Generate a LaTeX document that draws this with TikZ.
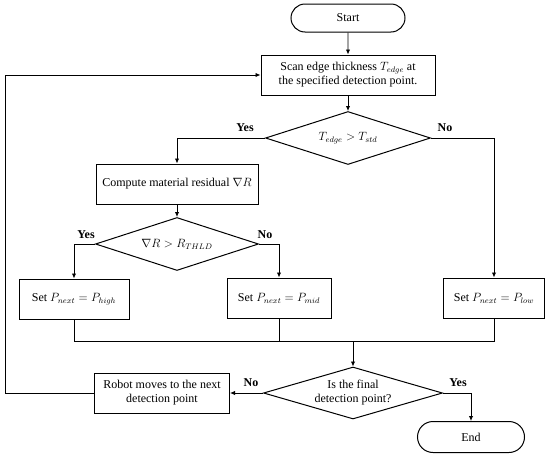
\documentclass[tikz,border=0pt]{standalone}
\usepackage{fontspec}
\setmainfont{Liberation Serif}
\usetikzlibrary{shapes.geometric,shapes.misc,arrows.meta}
\begin{document}
\begin{tikzpicture}[x=1pt,y=-1pt, font=\fontsize{12}{14}\selectfont,
 box/.style={draw, line width=1pt, inner sep=0pt, align=center},
 term/.style={draw, rounded rectangle, line width=1pt, inner sep=0pt},
 dec/.style={draw, diamond, line width=1pt, inner sep=0pt, aspect=3.4, align=center},
 lbl/.style={font=\fontsize{12}{14}\selectfont\bfseries},
 arr/.style={-{Latex[length=5pt,width=4.5pt]}, line width=0.9pt},
 ln/.style={line width=0.9pt}]
\useasboundingbox (0,0) rectangle (550,458);
\node[term, minimum width=114pt, minimum height=28pt] (start) at (348,18) {Start};
\node[box, minimum width=174pt, minimum height=40pt] (scan) at (348,75) {Scan edge thickness $T_{edge}$ at\\the specified detection point.};
\node[dec, minimum width=165pt, minimum height=53pt] (d1) at (348,138) {$T_{edge} > T_{std}$};
\node[box, minimum width=162pt, minimum height=40pt] (comp) at (177,184) {Compute material residual $\nabla R$};
\node[dec, minimum width=163pt, minimum height=53pt] (d2) at (177,244) {$\nabla R > R_{THLD}$};
\node[box, minimum width=110pt, minimum height=40pt] (high) at (74,299) {Set $P_{next} = P_{high}$};
\node[box, minimum width=104pt, minimum height=40pt] (mid) at (279,298) {Set $P_{next} = P_{mid}$};
\node[box, minimum width=101pt, minimum height=40pt] (low) at (494,298) {Set $P_{next} = P_{low}$};
\coordinate (merge) at (353,341);
\node[dec, minimum width=179pt, minimum height=52pt] (d3) at (353,393) {Is the final\\detection point?};
\node[box, minimum width=135pt, minimum height=40pt] (robot) at (162,393) {Robot moves to the next\\detection point};
\node[term, minimum width=107pt, minimum height=31pt] (end) at (471,437) {End};
\coordinate (lb) at (5,393);
\coordinate (lt) at (5,75);
\draw[arr] (start) -- (scan);
\draw[arr] (scan) -- (d1);
\draw[arr] (d1.west) -| (comp.north);
\draw[arr] (d1.east) -| (low.north);
\draw[arr] (comp) -- (d2);
\draw[arr] (d2.west) -| (high.north);
\draw[arr] (d2.east) -| (mid.north);
\draw[ln] (high.south) -- (high.south |- merge) -- (low.south |- merge) -- (low.south);
\draw[ln] (mid.south) -- (mid.south |- merge);
\draw[arr] (merge) -- (d3.north);
\draw[arr] (d3.east) -| (end.north);
\draw[arr] (d3.west) -- (robot.east);
\draw[arr] (robot.west) -- (lb) -- (lt) -- (scan.west);
\node[lbl] (y1) at (245,128) {Yes};
\node[lbl] (n1) at (445,128) {No};
\node[lbl] (y2) at (86,235) {Yes};
\node[lbl] (n2) at (265,235) {No};
\node[lbl] (y3) at (458,383) {Yes};
\node[lbl] (n3) at (251,383) {No};
\end{tikzpicture}
\end{document}
